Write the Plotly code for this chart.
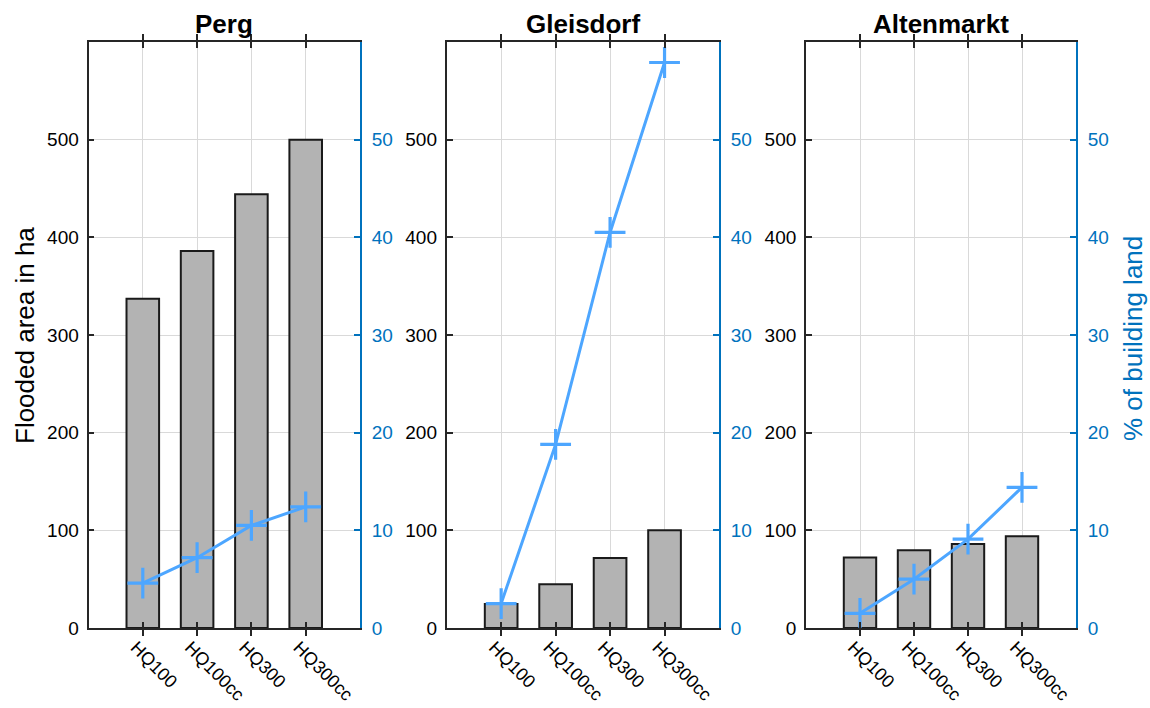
import plotly.graph_objects as go

# Flood scenarios and per-municipality results
scenarios = ["HQ100", "HQ100cc", "HQ300", "HQ300cc"]
municipalities = ["Perg", "Gleisdorf", "Altenmarkt"]

# Flooded area in ha (bars, left axis)
area_perg = [337, 386, 444, 500]
area_gleisdorf = [24.5, 44.8, 71.7, 100]
area_altenmarkt = [72.3, 79.5, 86, 94]

# Share of building land in % (line, right axis)
share_perg = [4.6, 7.2, 10.5, 12.4]
share_gleisdorf = [2.5, 18.8, 40.5, 57.9]
share_altenmarkt = [1.5, 5.0, 9.1, 14.4]

areas = [area_perg, area_gleisdorf, area_altenmarkt]
shares = [share_perg, share_gleisdorf, share_altenmarkt]

W, H = 1150, 708
FONT = "Liberation Sans, Arial, sans-serif"
DARK = "#262626"
BLUE_AX = "#0072BD"
BLUE_LINE = "#4DA6FF"
GRID = "#d9d9d9"
YTICK_SIZE = 19
XTICK_SIZE = 18

# panel edges in pixels
panels_x = [(88.5, 360), (446.7, 719), (806, 1076)]
top_px, bottom_px = 42, 628
ydom = [(H - bottom_px) / H, (H - top_px) / H]

xpos = [i + 1 for i in range(len(scenarios))]

fig = go.Figure()
layout = dict(
    width=W, height=H,
    margin=dict(l=0, r=0, t=0, b=0, autoexpand=False),
    paper_bgcolor="white", plot_bgcolor="white",
    showlegend=False,
    font=dict(family=FONT, size=YTICK_SIZE, color=DARK),
    annotations=[],
)

for i, name in enumerate(municipalities):
    xa = "x" if i == 0 else f"x{i + 1}"
    ya = "y" if i == 0 else f"y{2 * i + 1}"
    yb = f"y{2 * i + 2}"
    xkey = "xaxis" if i == 0 else f"xaxis{i + 1}"
    ykey = "yaxis" if i == 0 else f"yaxis{2 * i + 1}"
    ykey2 = f"yaxis{2 * i + 2}"

    fig.add_trace(go.Bar(
        x=xpos, y=areas[i], width=0.6, xaxis=xa, yaxis=ya,
        marker=dict(color="#b3b3b3", line=dict(color="#1a1a1a", width=2)),
    ))
    fig.add_trace(go.Scatter(
        x=xpos, y=shares[i], xaxis=xa, yaxis=yb, mode="lines+markers",
        line=dict(color=BLUE_LINE, width=3),
        marker=dict(symbol="cross-thin", size=22,
                    line=dict(color=BLUE_LINE, width=3.2)),
    ))

    x0, x1 = panels_x[i]
    layout[xkey] = dict(
        domain=[x0 / W, x1 / W], anchor=ya, range=[0, 5], automargin=False,
        tickmode="array", tickvals=xpos, ticktext=scenarios, tickangle=45,
        ticks="inside", ticklen=6, tickcolor=DARK, tickwidth=1.5,
        showline=True, linecolor=DARK, linewidth=1.8, mirror="allticks",
        showgrid=True, gridcolor=GRID, gridwidth=1.2, zeroline=False,
        tickfont=dict(size=XTICK_SIZE, color="#000000"),
        ticklabelstandoff=0, ticklabelshift=-7,
        fixedrange=True,
    )
    layout[ykey] = dict(
        domain=ydom, anchor=xa, range=[0, 600], automargin=False,
        tickmode="array", tickvals=[0, 100, 200, 300, 400, 500],
        ticks="inside", ticklen=6, tickcolor=DARK, tickwidth=1.5,
        showline=True, linecolor=DARK, linewidth=1.8,
        showgrid=True, gridcolor=GRID, gridwidth=1.2, zeroline=False,
        tickfont=dict(size=YTICK_SIZE, color="#000000"), ticklabelstandoff=4,
    )
    layout[ykey2] = dict(
        overlaying=ya, anchor=xa, side="right", range=[0, 60], automargin=False,
        tickmode="array", tickvals=[0, 10, 20, 30, 40, 50],
        ticks="inside", ticklen=6, tickcolor=BLUE_AX, tickwidth=1.5,
        showline=True, linecolor=BLUE_AX, linewidth=1.8,
        showgrid=False, zeroline=False,
        tickfont=dict(size=YTICK_SIZE, color=BLUE_AX), ticklabelstandoff=6,
    )
    layout["annotations"].append(dict(
        text=f"<b>{name}</b>", x=(x0 + x1) / 2 / W, y=(H - 24) / H,
        xref="paper", yref="paper", showarrow=False,
        font=dict(size=26, color="#000000", family=FONT),
        xanchor="center", yanchor="middle",
    ))

layout["annotations"].append(dict(
    text="Flooded area in ha", x=25 / W, y=(H - 336) / H,
    xref="paper", yref="paper", showarrow=False, textangle=-90,
    font=dict(size=26, color="#000000", family=FONT),
    xanchor="center", yanchor="middle",
))
layout["annotations"].append(dict(
    text="% of building land", x=1133 / W, y=(H - 339) / H,
    xref="paper", yref="paper", showarrow=False, textangle=-90,
    font=dict(size=26, color=BLUE_AX, family=FONT),
    xanchor="center", yanchor="middle",
))

fig.update_layout(**layout)
fig.write_html("out.html")
